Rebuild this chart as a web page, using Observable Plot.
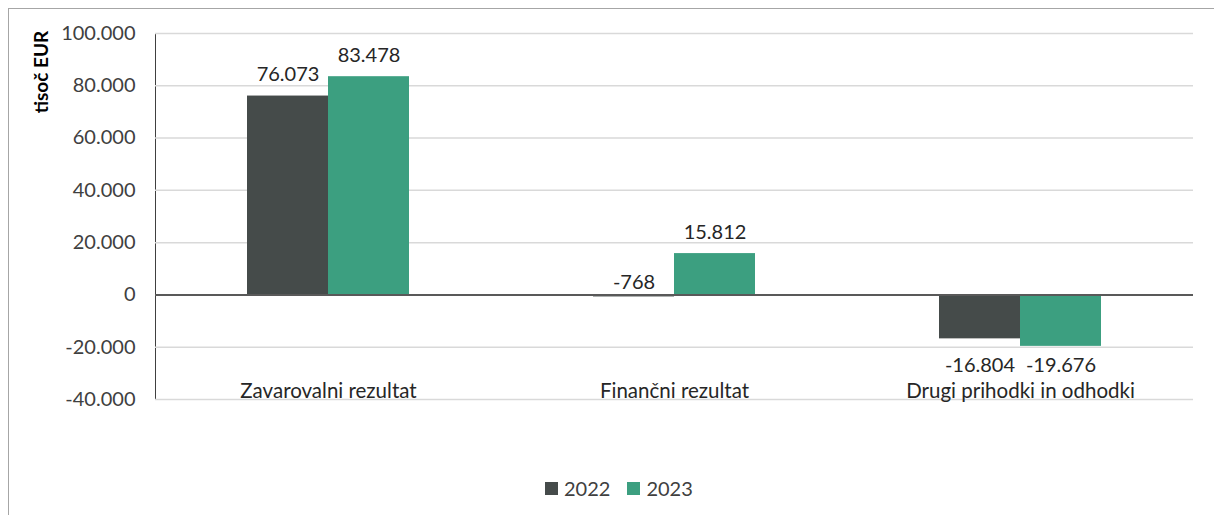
<!DOCTYPE html>
<html>
<head>
<meta charset="utf-8">
<script src="https://cdn.jsdelivr.net/npm/d3@7"></script>
<script src="https://cdn.jsdelivr.net/npm/@observablehq/plot@0.6"></script>
<style>
  html, body { margin: 0; padding: 0; background: #fff; }
  body { width: 1214px; height: 515px; overflow: hidden; position: relative; font-family: Lato, "Open Sans", sans-serif; color: #404040; }
  #frame { position: absolute; left: 8px; top: 8px; width: 1300px; height: 600px; border-left: 1px solid #a6a6a6; border-top: 1px solid #a6a6a6; }
  #chart { position: absolute; left: 0; top: 0; }
  #ytitle { position: absolute; left: 40px; top: 72px; transform: translate(-50%, -50%) rotate(-90deg); font-weight: bold; font-size: 19px; white-space: nowrap; color: #000; }
  #legend { position: absolute; left: 545px; top: 476px; display: flex; align-items: center; font-size: 20px; color: #404040; }
  #legend .sw { width: 13px; height: 13px; display: inline-block; margin-right: 6px; }
  #legend .item { display: flex; align-items: center; margin-right: 17px; }
</style>
</head>
<body>
<div id="frame"></div>
<div id="chart"></div>
<div id="ytitle">tisoč EUR</div>
<div id="legend"></div>
<script>
const categories = ["Zavarovalni rezultat", "Finančni rezultat", "Drugi prihodki in odhodki"];
const years = ["2022", "2023"];
const values2022 = [76073, -768, -16804];
const values2023 = [83478, 15812, -19676];
const yTicks = [-40000, -20000, 0, 20000, 40000, 60000, 80000, 100000];
const colors = ["#454b4a", "#3c9f80"];

const seriesValues = [values2022, values2023];
const rows = categories.flatMap((c, i) => years.map((yr, j) => ({category: c, year: yr, value: seriesValues[j][i]})));

const fmt = d3.formatLocale({decimal: ",", thousands: ".", grouping: [3], minus: "-", currency: ["", ""]}).format(",");

const chart = Plot.plot({
  width: 1214,
  height: 440,
  marginLeft: 155,
  marginRight: 21,
  marginTop: 33,
  marginBottom: 41,
  style: {fontFamily: "Lato, 'Open Sans', sans-serif", fontSize: "20px", color: "#404040", background: "transparent"},
  fx: {domain: categories, paddingInner: 0, paddingOuter: 0, axis: null, label: null},
  x: {domain: years, paddingInner: 0, paddingOuter: 1.11, axis: null, label: null},
  y: {domain: [-40000, 100000], ticks: yTicks, tickFormat: fmt, tickSize: 0, tickPadding: 20, label: null, line: true},
  color: {domain: years, range: colors},
  marks: [
    Plot.ruleY(yTicks, {stroke: "#d9d9d9", strokeWidth: 1.5}),
    Plot.barY(rows, {fx: "category", x: "year", y: "value", fill: "year"}),
    Plot.ruleY([0], {stroke: "#595959", strokeWidth: 2}),
    Plot.text(rows, {filter: d => d.value >= 0, fx: "category", x: "year", y: "value", text: d => fmt(d.value), lineAnchor: "bottom", dy: -15, fill: "#262626", fontSize: 20}),
    Plot.text(rows, {filter: d => d.value < 0 && d.value > -2000, fx: "category", x: "year", y: () => 0, text: d => fmt(d.value), lineAnchor: "bottom", dy: -6, fill: "#262626", fontSize: 20}),
    Plot.text(rows, {filter: d => d.value <= -2000, fx: "category", x: "year", text: d => fmt(d.value), frameAnchor: "bottom", lineAnchor: "bottom", dy: -28, fill: "#262626", fontSize: 20}),
    Plot.text(categories, {fx: d => d, text: d => d, frameAnchor: "bottom", lineAnchor: "bottom", dy: -2, fill: "#262626", fontSize: 20.5})
  ]
});
document.getElementById("chart").appendChild(chart);

const legend = document.getElementById("legend");
years.forEach((yr, j) => {
  const item = document.createElement("span");
  item.className = "item";
  const sw = document.createElement("span");
  sw.className = "sw";
  sw.style.background = colors[j];
  item.appendChild(sw);
  item.appendChild(document.createTextNode(yr));
  legend.appendChild(item);
});
</script>
</body>
</html>
